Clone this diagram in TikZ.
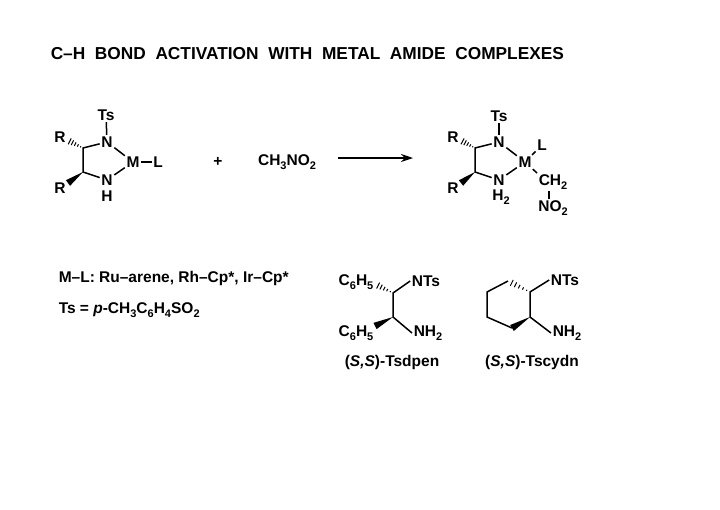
\documentclass[tikz,border=0pt]{standalone}
\usepackage{fontspec}
\setmainfont{Liberation Sans}
\usetikzlibrary{calc,arrows.meta}
\newcommand\sbs[1]{\raisebox{-0.45ex}{\fontsize{11}{11}\selectfont #1}}
\newcommand\hashbond[2]{\foreach \t in {0.15,0.32,0.49,0.66,0.83,1.0}{\draw[line width=1pt] ($(#1)!\t!(#2)!\t*4pt!90:(#2)$) -- ($(#1)!\t!(#2)!\t*4pt!-90:(#2)$);}}
\newcommand\wedgebond[2]{\fill (#1) -- ($(#2)!3.5pt!90:(#1)$) -- ($(#2)!3.5pt!-90:(#1)$) -- cycle;}
\begin{document}
\begin{tikzpicture}[x=1pt,y=-1pt,line width=1.5pt,
  atm/.style={inner sep=1pt,font=\fontsize{15.5}{15.5}\selectfont\bfseries},
  lbl/.style={anchor=west,inner sep=0pt,font=\fontsize{15.5}{15.5}\selectfont\bfseries}]
\useasboundingbox[fill=white] (0,0) rectangle (720,509);
\node[anchor=west,inner sep=0pt,font=\fontsize{17.3}{17.3}\selectfont\bfseries] (title) at (50,54) {C–H\ \ BOND\ \ ACTIVATION\ \ WITH\ \ METAL\ \ AMIDE\ \ COMPLEXES};
% left complex
\node[atm] (ts1) at (106,115) {Ts};
\node[atm] (n1) at (107,142) {N};
\node[atm] (m1) at (133,162) {M};
\node[atm] (l1) at (158,162) {L};
\node[atm] (nh1) at (107,180) {N};
\node[atm] (h1) at (107,196) {H};
\node[atm] (r1) at (60,137) {R};
\node[atm] (r2) at (60,188) {R};
\coordinate (c1) at (83,148);
\coordinate (c2) at (83,172);
\coordinate (r1e) at (67,140);
\coordinate (r2e) at (68,183);
\draw (ts1) -- (n1);
\draw (n1) -- (m1);
\draw (m1) -- (l1);
\draw (nh1) -- (m1);
\draw (n1) -- (c1) -- (c2) -- (nh1);
\hashbond{c1}{r1e}
\wedgebond{c2}{r2e}
\node[atm] (plus) at (218,162) {+};
\node[atm] (rea) at (287,162) {CH\sbs{3}NO\sbs{2}};
\coordinate (a1) at (338,158);
\coordinate (a2) at (413,158);
\draw[-{Stealth[length=12pt,width=8pt]}] (a1) -- (a2);
% right complex
\node[atm] (ts2) at (499,116) {Ts};
\node[atm] (n2) at (499,142) {N};
\node[atm] (m2) at (525,162) {M};
\node[atm] (l2) at (542,145) {L};
\node[atm] (nh2) at (499,180) {N};
\node[atm] (h2) at (501,197) {H\sbs{2}};
\node[atm] (r3) at (453,137) {R};
\node[atm] (r4) at (453,188) {R};
\node[atm] (ch2) at (553,182) {CH\sbs{2}};
\node[atm] (no2) at (553,208) {NO\sbs{2}};
\coordinate (c3) at (475,148);
\coordinate (c4) at (475,172);
\coordinate (r3e) at (460,140);
\coordinate (r4e) at (461,183);
\draw (ts2) -- (n2);
\draw (n2) -- (m2);
\draw (m2) -- (l2);
\draw (nh2) -- (m2);
\draw (m2) -- (ch2.north west);
\draw ($(ch2.south)+(-4,0)$) -- ($(no2.north)+(-4,0)$);
\draw (n2) -- (c3) -- (c4) -- (nh2);
\hashbond{c3}{r3e}
\wedgebond{c4}{r4e}
% notes
\node[lbl] (t1) at (58,278) {M–L: Ru–arene, Rh–Cp*, Ir–Cp*};
\node[lbl] (t2) at (58,310) {Ts = \textit{p}-CH\sbs{3}C\sbs{6}H\sbs{4}SO\sbs{2}};
% Tsdpen
\node[atm] (ph1) at (356,282) {C\sbs{6}H\sbs{5}};
\node[atm] (nts1) at (426,281) {NTs};
\node[atm] (ph2) at (356,333) {C\sbs{6}H\sbs{5}};
\node[atm] (nh21) at (428,333) {NH\sbs{2}};
\coordinate (d1) at (393,293);
\coordinate (d2) at (393,317);
\coordinate (p1e) at (375,284);
\coordinate (p2e) at (375,326);
\draw (nts1.west) -- (d1) -- (d2) -- (nh21.west);
\hashbond{d1}{p1e}
\wedgebond{d2}{p2e}
\node[atm] (lab1) at (392,362) {(\textit{S,S})-Tsdpen};
% Tscydn
\coordinate (e1) at (530,292);
\coordinate (e2) at (530,317);
\coordinate (e3) at (512,328);
\coordinate (e4) at (487,317);
\coordinate (e5) at (487,292);
\coordinate (e6) at (508,281);
\node[atm] (nts2) at (565,280) {NTs};
\node[atm] (nh22) at (567,333) {NH\sbs{2}};
\draw (nts2.west) -- (e1) -- (e2) -- (nh22.west);
\draw (e3) -- (e4) -- (e5) -- (e6);
\hashbond{e1}{e6}
\wedgebond{e2}{e3}
\node[atm] (lab2) at (532,362) {(\textit{S,S})-Tscydn};
\end{tikzpicture}
\end{document}
